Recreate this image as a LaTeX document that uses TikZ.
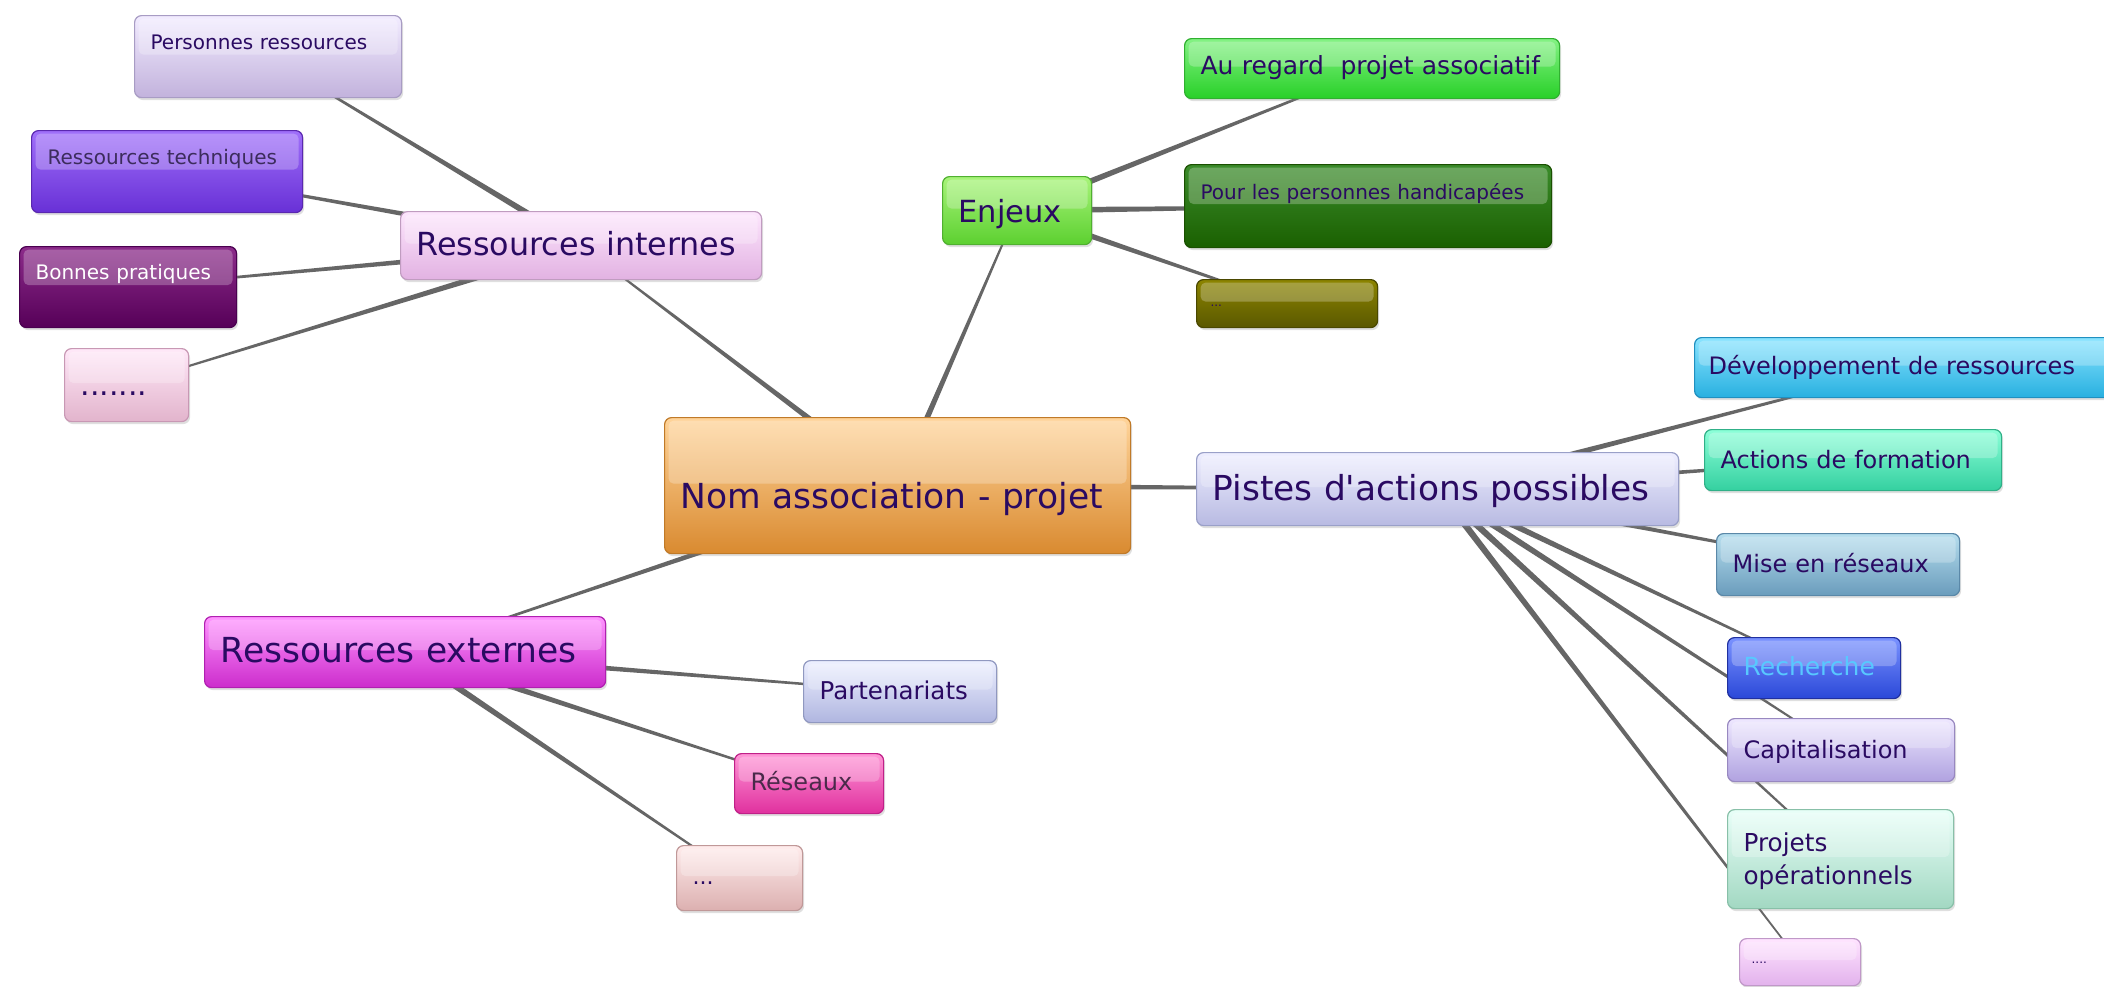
\documentclass[tikz,border=0pt]{standalone}
\usepackage{fontspec}
\setmainfont{DejaVu Sans}
\usetikzlibrary{calc,shadows}
\pgfdeclarelayer{bg}
\pgfdeclarelayer{back}
\pgfsetlayers{back,bg,main}
\definecolor{txt}{HTML}{2A0A62}
\definecolor{linkc}{HTML}{666666}
\newcommand\dc[2]{\definecolor{#1}{HTML}{#2}}
\dc{rootT}{FFD49A}\dc{rootB}{D98A30}\dc{rootD}{C07A28}
\dc{riT}{FDE6FD}\dc{riB}{E2B2E2}\dc{riD}{C09CC0}
\dc{prT}{F2ECFF}\dc{prB}{C2B2DC}\dc{prD}{A89CC4}
\dc{rtT}{A070FA}\dc{rtB}{6830D6}\dc{rtD}{5A28B0}\dc{rtX}{3C2C5C}
\dc{bpT}{8C2C8A}\dc{bpB}{560058}\dc{bpD}{4A0050}
\dc{d1T}{FFE8F8}\dc{d1B}{E2B4CC}\dc{d1D}{C898B4}
\dc{enT}{A8F47A}\dc{enB}{5CD030}\dc{enD}{50B030}
\dc{arT}{84F284}\dc{arB}{28D028}\dc{arD}{30B030}
\dc{plT}{3C8C2C}\dc{plB}{1A6000}\dc{plD}{1A5000}
\dc{olT}{8C8400}\dc{olB}{5A5800}\dc{olD}{4A4800}
\dc{piT}{EEEEFF}\dc{piB}{B8BAE2}\dc{piD}{9AA0C8}
\dc{dvT}{8AE4FF}\dc{dvB}{28B0E0}\dc{dvD}{2090C0}
\dc{afT}{8CFFD8}\dc{afB}{34D0A0}\dc{afD}{30B088}
\dc{mrT}{B6DEEE}\dc{mrB}{6A9CBC}\dc{mrD}{5A88A8}
\dc{reT}{7A92FF}\dc{reB}{2A48D8}\dc{reD}{2030A0}\dc{reX}{58C8FF}
\dc{caT}{EEE8FF}\dc{caB}{B0A2E0}\dc{caD}{9888C0}
\dc{poT}{E8FFF8}\dc{poB}{A2D8C2}\dc{poD}{88C0A8}
\dc{d4T}{FFE4FF}\dc{d4B}{E2B2EC}\dc{d4D}{C098C8}
\dc{rxT}{FF94FF}\dc{rxB}{CC2CCC}\dc{rxD}{B020B0}
\dc{paT}{ECEFFF}\dc{paB}{B0B6E0}\dc{paD}{9098C0}
\dc{rsT}{FF96D6}\dc{rsB}{E0309E}\dc{rsD}{C02088}\dc{rsX}{4A2A4A}
\dc{d3T}{FFECEC}\dc{d3B}{DCB0B0}\dc{d3D}{C09898}
\newcommand\fs[1]{\fontsize{#1}{33}\selectfont}
\newcommand\conn[2]{\fill[linkc] ($(#1.center)!3.4pt!90:(#2.center)$) -- ($(#2.center)!0.7pt!-90:(#1.center)$) -- ($(#2.center)!0.7pt!90:(#1.center)$) -- ($(#1.center)!3.4pt!-90:(#2.center)$) -- cycle;}
\tikzset{
  mm/.style={rectangle, rounded corners=7pt, anchor=north west, inner xsep=16pt, inner ysep=0pt,
    align=left, line width=1.2pt, text=txt,
    drop shadow={shadow xshift=1.5pt, shadow yshift=-2.5pt, opacity=0.25},
    path picture={\fill[white,opacity=0.25,rounded corners=5pt]
      ([xshift=4pt,yshift=-3pt]path picture bounding box.north west) rectangle
      ([xshift=-4pt,yshift=2pt]path picture bounding box.east);}},
  cl/.style={top color=#1T, bottom color=#1B, draw=#1D}
}
\begin{document}
\begin{tikzpicture}[x=1pt,y=-1pt]
\begin{pgfonlayer}{back}
\fill[white] (0,0) rectangle (2104,986);
\end{pgfonlayer}
\useasboundingbox (0,0) rectangle (2104,986);

% root
\node[mm, cl=root, text width=434pt, text height=91pt, text depth=45pt, font=\fs{34.5}] (root) at (664,417) {Nom association - projet};

% ressources internes
\node[mm, cl=ri, text width=329pt, text height=44pt, text depth=24pt, font=\fs{31.8}] (ri) at (400,211) {Ressources internes};
\node[mm, cl=pr, text width=235pt, text height=34pt, text depth=48pt, font=\fs{20}] (pr) at (134,15) {Personnes ressources};
\node[mm, cl=rt, text=rtX, text width=239pt, text height=34pt, text depth=48pt, font=\fs{20}] (rt) at (31,130) {Ressources techniques};
\node[mm, cl=bp, text=white, text width=185pt, text height=33pt, text depth=48pt, font=\fs{20}] (bp) at (19,246) {Bonnes pratiques};
\node[mm, cl=d1, text width=92pt, text height=47pt, text depth=26pt, font=\fs{30}] (d1) at (64,348) {.......};

% enjeux
\node[mm, cl=en, text width=117pt, text height=46pt, text depth=22pt, font=\fs{30.5}] (en) at (942,176) {Enjeux};
\node[mm, cl=ar, text width=343pt, text height=36pt, text depth=24pt, font=\fs{25}] (ar) at (1184,38) {Au regard\ \ projet associatif};
\node[mm, cl=pl, text width=335pt, text height=35pt, text depth=48pt, font=\fs{20}] (pl) at (1184,164) {Pour les personnes handicapées};
\node[mm, cl=ol, inner xsep=14pt, text width=153pt, text height=27pt, text depth=21pt, font=\fs{12}] (ol) at (1196,279) {...};

% pistes
\node[mm, cl=pi, text width=450pt, text height=48pt, text depth=25pt, font=\fs{34.4}] (pi) at (1196,452) {Pistes d\textquotesingle actions possibles};
\node[mm, cl=dv, inner xsep=14pt, text width=392pt, text height=37pt, text depth=23pt, font=\fs{24}] (dv) at (1694,337) {Développement de ressources};
\node[mm, cl=af, text width=265pt, text height=39pt, text depth=22pt, font=\fs{24}] (af) at (1704,429) {Actions de formation};
\node[mm, cl=mr, text width=211pt, text height=39pt, text depth=23pt, font=\fs{24}] (mr) at (1716,533) {Mise en réseaux};
\node[mm, cl=re, text=reX, text width=141pt, text height=38pt, text depth=23pt, font=\fs{25}] (re) at (1727,637) {Recherche};
\node[mm, cl=ca, text width=195pt, text height=40pt, text depth=23pt, font=\fs{24}] (ca) at (1727,718) {Capitalisation};
\node[mm, cl=po, text width=194pt, text height=42pt, text depth=57pt, font=\fs{24.7}] (po) at (1727,809) {Projets\\opérationnels};
\node[mm, cl=d4, inner xsep=12pt, text width=97pt, text height=25pt, text depth=22pt, font=\fs{12}] (d4) at (1739,938) {....};

% ressources externes
\node[mm, cl=rx, text width=369pt, text height=46pt, text depth=25pt, font=\fs{34.5}] (rx) at (204,616) {Ressources externes};
\node[mm, cl=pa, text width=161pt, text height=39pt, text depth=23pt, font=\fs{24.5}] (pa) at (803,660) {Partenariats};
\node[mm, cl=rs, text=rsX, text width=117pt, text height=37pt, text depth=23pt, font=\fs{24}] (rs) at (734,753) {Réseaux};
\node[mm, cl=d3, text width=94pt, text height=39pt, text depth=26pt, font=\fs{22}] (d3) at (676,845) {...};

\begin{pgfonlayer}{bg}
\conn{root}{ri}\conn{root}{en}\conn{root}{pi}\conn{root}{rx}
\conn{ri}{pr}\conn{ri}{rt}\conn{ri}{bp}\conn{ri}{d1}
\conn{en}{ar}\conn{en}{pl}\conn{en}{ol}
\conn{pi}{dv}\conn{pi}{af}\conn{pi}{mr}\conn{pi}{re}\conn{pi}{ca}\conn{pi}{po}\conn{pi}{d4}
\conn{rx}{pa}\conn{rx}{rs}\conn{rx}{d3}
\end{pgfonlayer}
\end{tikzpicture}
\end{document}
